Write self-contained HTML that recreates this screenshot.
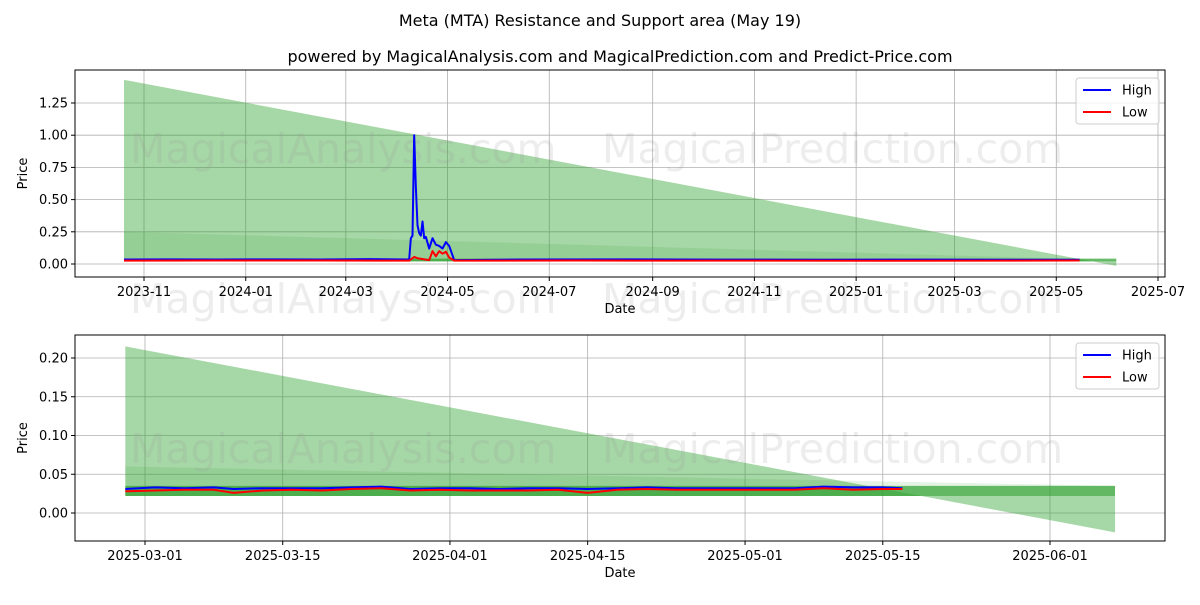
<!DOCTYPE html>
<html><head><meta charset="utf-8"><style>
body{margin:0;background:#fff;font-family:"Liberation Sans","DejaVu Sans",sans-serif}
svg text{font-family:"DejaVu Sans","Liberation Sans",sans-serif}
</style></head><body>
<svg id="c" width="1200" height="600" xmlns="http://www.w3.org/2000/svg">
<rect width="1200" height="600" fill="#fff"/>
<text x="600" y="26" font-size="16" text-anchor="middle">Meta (MTA) Resistance and Support area (May 19)</text>
<text x="620" y="62" font-size="16" text-anchor="middle">powered by MagicalAnalysis.com and MagicalPrediction.com and Predict-Price.com</text>
</svg>
<script>
// ---- top chart data ----
const topHighDates=["2023-10-20","2023-11-15","2023-12-15","2024-01-15","2024-02-15","2024-03-15","2024-04-08","2024-04-09","2024-04-10","2024-04-11","2024-04-12","2024-04-13","2024-04-14","2024-04-15","2024-04-16","2024-04-17","2024-04-18","2024-04-20","2024-04-22","2024-04-24","2024-04-26","2024-04-28","2024-04-30","2024-05-02","2024-05-05","2024-06-15","2024-08-15","2024-10-15","2024-12-15","2025-02-15","2025-05-15"];
const topHighValues=[0.035,0.036,0.035,0.036,0.035,0.038,0.035,0.2,0.22,1.0,0.6,0.3,0.24,0.22,0.33,0.2,0.21,0.12,0.2,0.15,0.14,0.12,0.17,0.14,0.03,0.035,0.036,0.034,0.033,0.034,0.033];
const topLowDates=["2023-10-20","2023-12-15","2024-02-15","2024-04-08","2024-04-11","2024-04-13","2024-04-20","2024-04-22","2024-04-24","2024-04-26","2024-04-28","2024-04-30","2024-05-02","2024-05-05","2024-07-15","2024-10-15","2025-01-15","2025-05-15"];
const topLowValues=[0.026,0.027,0.027,0.026,0.055,0.045,0.03,0.1,0.06,0.1,0.08,0.095,0.05,0.026,0.027,0.026,0.025,0.027];
const topTicksY=[0,0.25,0.5,0.75,1.0,1.25];
const topTicksX=["2023-11","2024-01","2024-03","2024-05","2024-07","2024-09","2024-11","2025-01","2025-03","2025-05","2025-07"];
const topBand=[1.43,-0.015]; const topBand2=[0.25,0.03]; const topBand3=[0.02,0.042];
// ---- bottom chart data ----
const botDates=["2025-02-27","2025-03-02","2025-03-05","2025-03-08","2025-03-10","2025-03-13","2025-03-16","2025-03-19","2025-03-22","2025-03-25","2025-03-28","2025-03-31","2025-04-03","2025-04-06","2025-04-09","2025-04-12","2025-04-15","2025-04-18","2025-04-21","2025-04-24","2025-04-27","2025-04-30","2025-05-03","2025-05-06","2025-05-09","2025-05-12","2025-05-15","2025-05-17"];
const botHigh=[0.031,0.033,0.032,0.033,0.031,0.032,0.032,0.032,0.033,0.034,0.031,0.032,0.032,0.031,0.032,0.032,0.031,0.032,0.033,0.032,0.032,0.032,0.032,0.032,0.034,0.033,0.033,0.032];
const botLow=[0.028,0.029,0.03,0.03,0.026,0.029,0.03,0.029,0.031,0.032,0.029,0.03,0.029,0.029,0.029,0.03,0.026,0.03,0.031,0.03,0.03,0.03,0.03,0.03,0.032,0.03,0.031,0.031];
const botTicksY=[0,0.05,0.1,0.15,0.2];
const botTicksX=["2025-03-01","2025-03-15","2025-04-01","2025-04-15","2025-05-01","2025-05-15","2025-06-01"];
const botBand=[0.215,-0.025]; const botBand2=[0.06,0.035]; const botBand3=[0.022,0.035];

const NS="http://www.w3.org/2000/svg", svg=document.getElementById('c');
const day=s=>{const p=s.split('-');return Date.UTC(+p[0],+p[1]-1,p[2]?+p[2]:1)/864e5;};
function el(t,a,parent){const e=document.createElementNS(NS,t);for(const k in a)e.setAttribute(k,a[k]);(parent||svg).appendChild(e);return e;}

function panel(o){
  const g=el('g',{});
  
  
  const X=d=>o.x0+(day(d)-day(o.dref0))*(o.x1-o.x0)/(day(o.dref1)-day(o.dref0));
  const Y=v=>o.y0+(v-o.v0)*(o.y1-o.y0)/(o.v1-o.v0);
  const xs=X(o.start), xe=X(o.end)+o.endPad;
  o.ticksY.forEach(v=>{const l=el('line',{x1:o.L,x2:o.R,y1:Y(v),y2:Y(v),stroke:'#b0b0b0','stroke-width':0.8},g);
    });
  o.ticksX.forEach(d=>{const l=el('line',{x1:X(d),x2:X(d),y1:o.T,y2:o.B,stroke:'#b0b0b0','stroke-width':0.8},g);
    });
  const poly=(a,b,c,d)=>`${xs},${Y(a)} ${xe},${Y(b)} ${xe},${Y(d)} ${xs},${Y(c)}`;
  const p1=el('polygon',{points:poly(o.band[0],o.band[1],o.band3[0],o.band3[0]),fill:'#2ca02c','fill-opacity':0.42},g);
  
  const p2=el('polygon',{points:poly(o.band2[0],o.band2[1],o.band3[0],o.band3[0]),fill:'#2ca02c','fill-opacity':0.12},g);
  
  const p3=el('polygon',{points:poly(o.band3[1],o.band3[1],o.band3[0],o.band3[0]),fill:'#2ca02c','fill-opacity':0.7},g);
  
  o.wm.forEach(w=>{const t=el('text',{x:w[0],y:w[1],'font-size':41,fill:'#999','fill-opacity':0.18},g);t.textContent=w[2];
    });
  const pl=(ds,vs,c,n)=>{const l=el('polyline',{points:ds.map((d,i)=>X(d)+','+Y(vs[i])).join(' '),fill:'none',stroke:c,'stroke-width':2,'stroke-linejoin':'round'},g);
    };
  pl(o.hd,o.hv,'#0000ff','high-line'); pl(o.ld,o.lv,'#ff0000','low-line');
  const f=el('rect',{x:o.L,y:o.T,width:o.R-o.L,height:o.B-o.T,fill:'none',stroke:'#000','stroke-width':1},g);
  
  o.ticksY.forEach((v,i)=>{el('line',{x1:o.L-4,x2:o.L,y1:Y(v),y2:Y(v),stroke:'#000'},g);
    const t=el('text',{x:o.L-7,y:Y(v)+4.5,'font-size':13,'text-anchor':'end'},g);t.textContent=v.toFixed(2);
    });
  o.ticksX.forEach(d=>{el('line',{x1:X(d),x2:X(d),y1:o.B,y2:o.B+4,stroke:'#000'},g);
    const t=el('text',{x:X(d),y:o.B+19,'font-size':13,'text-anchor':'middle'},g);t.textContent=d;
    });
  const xl=el('text',{x:(o.L+o.R)/2,y:o.B+36,'font-size':13,'text-anchor':'middle'},g);xl.textContent='Date';
  
  const yl=el('text',{x:0,y:0,'font-size':13,'text-anchor':'middle',transform:`translate(27,${(o.T+o.B)/2}) rotate(-90)`},g);yl.textContent='Price';
  
  const lg=el('g',{},g);
  
  
  el('rect',{x:o.R-89,y:o.T+8,width:83,height:46,rx:3,fill:'#fff','fill-opacity':0.8,stroke:'#ccc'},lg);
  [['High','#0000ff'],['Low','#ff0000']].forEach((e,i)=>{const yy=o.T+20+i*22;
    el('line',{x1:o.R-82,x2:o.R-54,y1:yy,y2:yy,stroke:e[1],'stroke-width':2},lg);
    const t=el('text',{x:o.R-43,y:yy+4.5,'font-size':13},lg);t.textContent=e[0];
    });
}
panel({name:'top-chart',L:75,R:1165,T:70,B:277,x0:144,x1:1158,dref0:"2023-11-01",dref1:"2025-07-01",y0:264,y1:103,v0:0,v1:1.25,
  start:"2023-10-20",end:"2025-06-06",endPad:0,band:topBand,band2:topBand2,band3:topBand3,ticksY:topTicksY,ticksX:topTicksX,
  hd:topHighDates,hv:topHighValues,ld:topLowDates,lv:topLowValues,
  wm:[[130,163,'MagicalAnalysis.com'],[602,163,'MagicalPrediction.com'],[130,313,'MagicalAnalysis.com'],[602,313,'MagicalPrediction.com']]});
panel({name:'bottom-chart',L:75,R:1165,T:335,B:541,x0:145,x1:1050,dref0:"2025-03-01",dref1:"2025-06-01",y0:513,y1:358,v0:0,v1:0.2,
  start:"2025-02-27",end:"2025-06-07",endPad:6,band:botBand,band2:botBand2,band3:botBand3,ticksY:botTicksY,ticksX:botTicksX,
  hd:botDates,hv:botHigh,ld:botDates,lv:botLow,
  wm:[[130,463,'MagicalAnalysis.com'],[602,463,'MagicalPrediction.com']]});
</script>
</body></html>
